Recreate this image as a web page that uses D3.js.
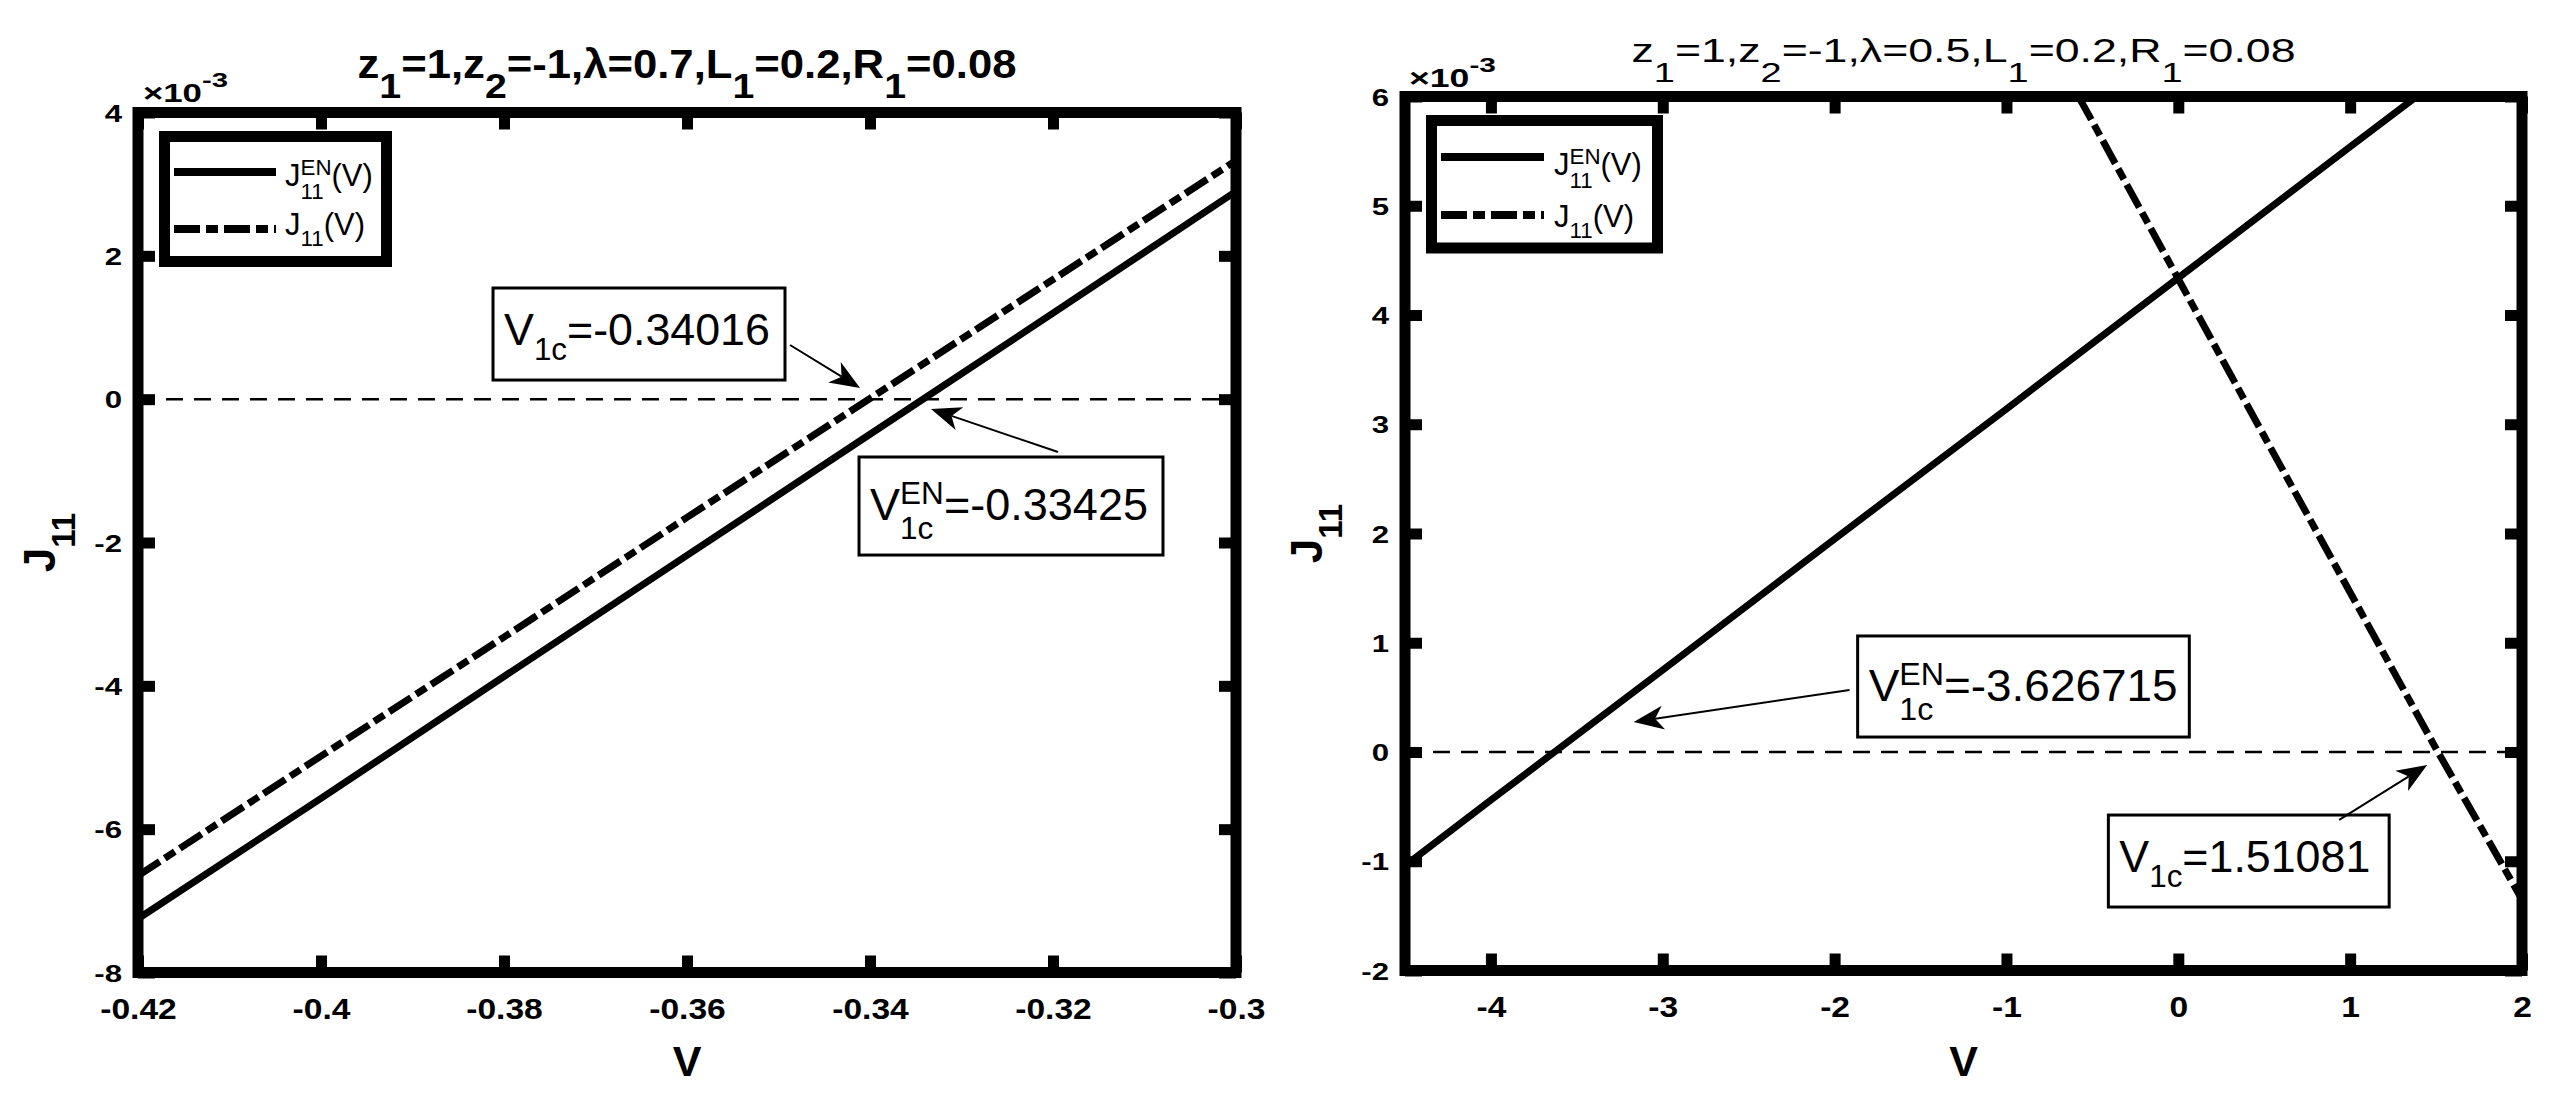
<!DOCTYPE html>
<html>
  <head>
    <title>J11 vs V</title>
    <script src="https://d3js.org/d3.v7.min.js"></script>
    <style type="text/css">
body {
  margin: 0;
  background: #fff;
}
svg {
  display: block;
  font-family: 'Liberation Sans', Arial, Helvetica, sans-serif;
}
    </style>
  </head>
  <body>
    <script type="text/javascript">

// ---- data (J values in A, shown as x10^-3) ----
var vLeft      = [-0.42, -0.40, -0.38, -0.36, -0.34, -0.32, -0.30];
var jenLeft    = [-7.25e-3, -5.57e-3, -3.87e-3, -2.18e-3, -0.49e-3, 1.20e-3, 2.90e-3];
var jLeft      = [-6.65e-3, -4.98e-3, -3.32e-3, -1.65e-3, 0.01e-3, 1.67e-3, 3.33e-3];

var vRightEN   = [-4.5, -4, -3, -2, -1, 0, 1, 2];
var jenRight   = [-1.04e-3, -0.44e-3, 0.75e-3, 1.95e-3, 3.14e-3, 4.34e-3, 5.54e-3, 6.73e-3];
var vRightJ    = [-1, -0.5, 0, 0.5, 1, 1.5, 2];
var jRight     = [7.20e-3, 5.77e-3, 4.33e-3, 2.89e-3, 1.46e-3, 0.03e-3, -1.35e-3];

var xTicksLeft   = [-0.42, -0.40, -0.38, -0.36, -0.34, -0.32, -0.30];
var xLabelsLeft  = ["-0.42", "-0.4", "-0.38", "-0.36", "-0.34", "-0.32", "-0.3"];
var yTicksLeft   = [-8e-3, -6e-3, -4e-3, -2e-3, 0, 2e-3, 4e-3];
var yLabelsLeft  = ["-8", "-6", "-4", "-2", "0", "2", "4"];

var xTicksRight  = [-4, -3, -2, -1, 0, 1, 2];
var xLabelsRight = ["-4", "-3", "-2", "-1", "0", "1", "2"];
var yTicksRight  = [-2e-3, -1e-3, 0, 1e-3, 2e-3, 3e-3, 4e-3, 5e-3, 6e-3];
var yLabelsRight = ["-2", "-1", "0", "1", "2", "3", "4", "5", "6"];

var W = 2552, H = 1099;
var dashDot = "26,6,12,6";

var svg = d3.select("body").append("svg")
    .attr("width", W)
    .attr("height", H);

svg.append("rect").attr("width", W).attr("height", H).attr("fill", "#fff");

// draws text with TeX-like sub/superscripts, optionally stretched to a width
// parts: [text] | [text,"sub"] | [text,"sup"] | [sup,"ss",sub]
function rich(parent, parts, o) {
  var outer = parent.append("g")
      .attr("font-weight", o.weight || "normal")
      .attr("fill", "#000");
  var cx = 0;
  var small = o.size * (o.subScale || 0.7);
  parts.forEach(function(p) {
    var kind = p[1] || "n", t, w = 0;
    if (kind == "n") {
      t = outer.append("text").attr("x", cx).attr("y", 0)
          .attr("font-size", o.size).text(p[0]);
      cx += t.node().getComputedTextLength();
    } else if (kind == "ss") {
      // stacked super/subscript, pulled apart a little so they don't touch
      t = outer.append("text").attr("font-size", small);
      var up = t.append("tspan").attr("x", cx).attr("y", -(o.ssSupDy || o.supDy || 0)).text(p[0]);
      var dn = t.append("tspan").attr("x", cx).attr("y", o.ssSubDy || o.subDy || 0).text(p[2]);
      w = Math.max(up.node().getComputedTextLength(), dn.node().getComputedTextLength());
      cx += w;
    } else {
      t = outer.append("text").attr("x", cx)
          .attr("y", kind == "sub" ? (o.subDy || 0) : -(o.supDy || 0))
          .attr("font-size", small).text(p[0]);
      cx += t.node().getComputedTextLength();
    }
  });
  var sx = o.width ? o.width / cx : 1;
  var shift = o.anchor == "middle" ? -cx / 2 : (o.anchor == "end" ? -cx : 0);
  outer.attr("transform", "translate(" + o.x + "," + o.y + ")" +
      (o.rotate ? " rotate(" + o.rotate + ")" : "") +
      " scale(" + sx + ",1) translate(" + shift + ",0)");
  return outer;
}

function arrow(g, x1, y1, x2, y2) {
  var dx = x2 - x1, dy = y2 - y1, len = Math.sqrt(dx*dx + dy*dy),
      ux = dx / len, uy = dy / len, nx = -uy, ny = ux,
      L = 30, hw = 12,
      bx = x2 - ux*L, by = y2 - uy*L,
      kx = x2 - ux*L*0.72, ky = y2 - uy*L*0.72;
  g.append("line")
      .attr("x1", x1).attr("y1", y1).attr("x2", kx).attr("y2", ky)
      .attr("stroke", "#000").attr("stroke-width", 2);
  g.append("path")
      .attr("d", "M" + x2 + "," + y2 +
                 "L" + (bx + nx*hw) + "," + (by + ny*hw) +
                 "L" + kx + "," + ky +
                 "L" + (bx - nx*hw) + "," + (by - ny*hw) + "Z")
      .attr("fill", "#000");
}

function panel(cfg, k) {
  var x = d3.scaleLinear().domain(cfg.xDomain).range([cfg.x0, cfg.x1]),
      y = d3.scaleLinear().domain(cfg.yDomain).range([cfg.y1, cfg.y0]);
  var g = svg.append("g");

  g.append("clipPath").attr("id", "clip" + k)
    .append("rect")
      .attr("x", cfg.x0).attr("y", cfg.y0)
      .attr("width", cfg.x1 - cfg.x0).attr("height", cfg.y1 - cfg.y0);

  var plot = g.append("g").attr("clip-path", "url(#clip" + k + ")");

  // zero reference line
  plot.append("line")
      .attr("x1", cfg.x0).attr("x2", cfg.x1)
      .attr("y1", y(0)).attr("y2", y(0))
      .attr("stroke", "#000").attr("stroke-width", 2.5)
      .attr("stroke-dasharray", "17,11");

  var line = d3.line()
      .x(function(d) { return x(d[0]); })
      .y(function(d) { return y(d[1]); });

  cfg.series.forEach(function(s) {
    plot.append("path")
        .datum(d3.zip(s.v, s.j))
        .attr("d", line)
        .attr("fill", "none")
        .attr("stroke", "#000")
        .attr("stroke-width", 7)
        .attr("stroke-dasharray", s.dash ? dashDot : null);
  });

  // axes: inward ticks on all four sides
  var tk = -17;
  var bottom = g.append("g").attr("transform", "translate(0," + cfg.y1 + ")")
      .call(d3.axisBottom(x).tickValues(cfg.xTicks)
            .tickFormat(function(d, i) { return cfg.xLabels[i]; })
            .tickSizeInner(tk).tickSizeOuter(0));
  var left = g.append("g").attr("transform", "translate(" + cfg.x0 + ",0)")
      .call(d3.axisLeft(y).tickValues(cfg.yTicks)
            .tickFormat(function(d, i) { return cfg.yLabels[i]; })
            .tickSizeInner(tk).tickSizeOuter(0));
  var top = g.append("g").attr("transform", "translate(0," + cfg.y0 + ")")
      .call(d3.axisTop(x).tickValues(cfg.xTicks).tickFormat("")
            .tickSizeInner(tk).tickSizeOuter(0));
  var right = g.append("g").attr("transform", "translate(" + cfg.x1 + ",0)")
      .call(d3.axisRight(y).tickValues(cfg.yTicks).tickFormat("")
            .tickSizeInner(tk).tickSizeOuter(0));

  [bottom, left, top, right].forEach(function(a) {
    a.select(".domain").remove();
    a.selectAll(".tick line").attr("stroke", "#000").attr("stroke-width", 11);
  });

  var sxX = 1.12, sxY = 1.3;
  bottom.selectAll(".tick text")
      .attr("y", 46.5).attr("dy", null)
      .attr("fill", "#000")
      .attr("font-size", 30).attr("font-weight", "bold")
      .attr("font-family", "'Liberation Sans', Arial, sans-serif")
      .attr("transform", "scale(" + sxX + ",1)");
  left.selectAll(".tick text")
      .attr("x", -16 / sxY).attr("dy", "0.36em")
      .attr("fill", "#000")
      .attr("font-size", 24).attr("font-weight", "bold")
      .attr("font-family", "'Liberation Sans', Arial, sans-serif")
      .attr("transform", "scale(" + sxY + ",1)");

  // box
  g.append("rect")
      .attr("x", cfg.x0).attr("y", cfg.y0)
      .attr("width", cfg.x1 - cfg.x0).attr("height", cfg.y1 - cfg.y0)
      .attr("fill", "none").attr("stroke", "#000").attr("stroke-width", 11);

  // annotations
  cfg.notes.forEach(function(n) {
    var bx0 = x(n.box[0]), by0 = y(n.box[1]), bx1 = x(n.box[2]), by1 = y(n.box[3]);
    g.append("rect")
        .attr("x", bx0).attr("y", by0)
        .attr("width", bx1 - bx0).attr("height", by1 - by0)
        .attr("fill", "#fff").attr("stroke", "#000").attr("stroke-width", 3);
    rich(g, n.parts, {x: bx0 + 11, y: (by0 + by1) / 2 + n.base, size: 44,
                      subScale: 0.7, subDy: 15, supDy: 13, ssSupDy: 16, ssSubDy: 19,
                      width: n.width});
    arrow(g, x(n.tail[0]), y(n.tail[1]), x(n.tip[0]), y(n.tip[1]));
  });

  // legend
  var lg = cfg.legend;
  g.append("rect")
      .attr("x", lg.x).attr("y", lg.y).attr("width", lg.w).attr("height", lg.h)
      .attr("fill", "#fff").attr("stroke", "#000").attr("stroke-width", 11);
  cfg.series.forEach(function(s, i) {
    g.append("line")
        .attr("x1", lg.lineX[0]).attr("x2", lg.lineX[1])
        .attr("y1", lg.rows[i]).attr("y2", lg.rows[i])
        .attr("stroke", "#000").attr("stroke-width", 8)
        .attr("stroke-dasharray", s.dash ? dashDot : null);
    rich(g, s.label, {x: lg.textX, y: lg.textBase[i], size: 31,
                      subScale: 0.72, subDy: 11, supDy: 9, ssSupDy: 11, ssSubDy: 13});
  });

  // texts
  rich(g, cfg.title.parts, {x: (cfg.x0 + cfg.x1) / 2, y: cfg.title.y, size: cfg.title.size,
       weight: cfg.title.weight, subScale: cfg.title.subScale, subDy: 20,
       width: cfg.title.width, anchor: "middle"});
  rich(g, [["\u00d710"], ["-3", "sup"]], {x: cfg.exp.x, y: cfg.exp.y, size: 25,
       weight: "bold", subScale: 0.84, supDy: 15, width: cfg.exp.w});
  rich(g, [["V"]], {x: (cfg.x0 + cfg.x1) / 2, y: 1076, size: 43, weight: "bold",
       anchor: "middle"});
  rich(g, [["J"], ["11", "sub"]], {x: cfg.ylab.x, y: cfg.ylab.y, size: 44, weight: "bold",
       subScale: 0.75, subDy: 20, anchor: "middle", rotate: -90});
}

var legendEN = [["J"], ["EN", "ss", "11"], ["(V)"]];
var legendJ  = [["J"], ["11", "sub"], ["(V)"]];

function titleParts(lam) {
  return [["z"], ["1", "sub"], ["=1,z"], ["2", "sub"], ["=-1,\u03bb=" + lam + ",L"],
          ["1", "sub"], ["=0.2,R"], ["1", "sub"], ["=0.08"]];
}

panel({
  x0: 138, x1: 1236, y0: 112.5, y1: 972.5,
  xDomain: [-0.42, -0.3], yDomain: [-8e-3, 4e-3],
  xTicks: xTicksLeft, xLabels: xLabelsLeft, yTicks: yTicksLeft, yLabels: yLabelsLeft,
  series: [
    {v: vLeft, j: jenLeft, dash: false, label: legendEN},
    {v: vLeft, j: jLeft, dash: true, label: legendJ}
  ],
  notes: [
    {parts: [["V"], ["1c", "sub"], ["=-0.34016"]], width: 266, base: 11,
     box: [-0.38120, 1.551e-3, -0.34929, 0.267e-3],
     tail: [-0.34874, 0.756e-3], tip: [-0.34109, 0.156e-3]},
    {parts: [["V"], ["EN", "ss", "1c"], ["=-0.33425"]], width: 278, base: 14,
     box: [-0.34120, -0.807e-3, -0.30798, -2.175e-3],
     tail: [-0.31945, -0.737e-3], tip: [-0.33333, -0.137e-3]}
  ],
  legend: {x: 164.5, y: 136.5, w: 222, h: 125, lineX: [174, 276], rows: [172, 229],
           textX: 285, textBase: [186, 235]},
  title: {parts: titleParts("0.7"), y: 78, size: 40, weight: "bold", subScale: 0.9, width: 659},
  exp: {x: 143, y: 102, w: 85},
  ylab: {x: 55, y: 542.5}
}, 0);

panel({
  x0: 1405, x1: 2522, y0: 96.5, y1: 970.5,
  xDomain: [-4.5, 2], yDomain: [-2e-3, 6e-3],
  xTicks: xTicksRight, xLabels: xLabelsRight, yTicks: yTicksRight, yLabels: yLabelsRight,
  series: [
    {v: vRightEN, j: jenRight, dash: false, label: legendEN},
    {v: vRightJ, j: jRight, dash: true, label: legendJ}
  ],
  notes: [
    {parts: [["V"], ["EN", "ss", "1c"], ["=-3.626715"]], width: 309, base: 14.5,
     box: [-1.866, 1.062e-3, 0.064, 0.137e-3],
     tail: [-1.913, 0.568e-3], tip: [-3.169, 0.275e-3]},
    {parts: [["V"], ["1c", "sub"], ["=1.51081"]], width: 251, base: 11,
     box: [-0.407, -0.577e-3, 1.227, -1.419e-3],
     tail: [0.936, -0.622e-3], tip: [1.448, -0.119e-3]}
  ],
  legend: {x: 1431.5, y: 120.5, w: 226, h: 127.5, lineX: [1441, 1544], rows: [157, 215],
           textX: 1554, textBase: [175, 227]},
  title: {parts: titleParts("0.5"), y: 62, size: 33, weight: "normal", subScale: 0.85, width: 664},
  exp: {x: 1409, y: 87, w: 87},
  ylab: {x: 1322, y: 533.5}
}, 1);

    </script>
  </body>
</html>
